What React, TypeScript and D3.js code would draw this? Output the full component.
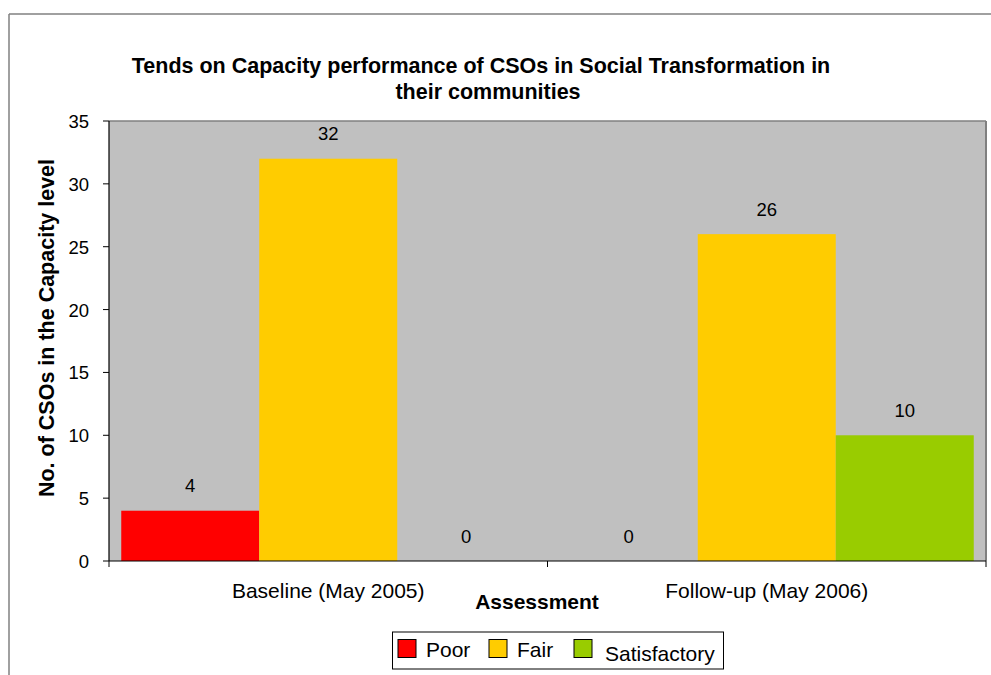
import React from "react";
import * as d3 from "d3";

const categories = ["Baseline (May 2005)", "Follow-up (May 2006)"];
const seriesNames = ["Poor", "Fair", "Satisfactory"];
const poorValues = [4, 0];
const fairValues = [32, 26];
const satisfactoryValues = [0, 10];
const seriesColors = ["#FF0000", "#FFCC00", "#99CC00"];
const yTicks = [0, 5, 10, 15, 20, 25, 30, 35];

const W = 991;
const H = 675;
const FONT = "'Liberation Sans', Arial, sans-serif";

export default function App() {
  const left = 109;
  const right = 986;
  const top = 121;
  const bottom = 561;

  const x0 = d3.scaleBand<string>().domain(categories).range([left, right]).paddingInner(0).paddingOuter(0);
  const x1 = d3
    .scaleBand<string>()
    .domain(seriesNames)
    .range([0, x0.bandwidth()])
    .paddingInner(0)
    .paddingOuter(0.0888);
  const y = d3.scaleLinear().domain([0, 35]).range([bottom, top]);

  const seriesValues = [poorValues, fairValues, satisfactoryValues];

  return (
    <svg
      width={W}
      height={H}
      style={{ position: "absolute", left: 0, top: 0, background: "#fff" }}
      fontFamily={FONT}
    >
      {/* outer border */}
      <line x1={9} y1={14} x2={W} y2={14} stroke="#808080" strokeWidth={1.5} />
      <line x1={9} y1={14} x2={9} y2={H} stroke="#808080" strokeWidth={1.5} />

      {/* title */}
      <text x={481} y={73} textAnchor="middle" fontSize={21.5} fontWeight="bold" fill="#000">
        Tends on Capacity performance of CSOs in Social Transformation in
      </text>
      <text x={488} y={99} textAnchor="middle" fontSize={21.5} fontWeight="bold" fill="#000">
        their communities
      </text>

      {/* plot area */}
      <rect x={left} y={top} width={right - left} height={bottom - top} fill="#C0C0C0" />
      <line x1={left} y1={top} x2={right} y2={top} stroke="#808080" strokeWidth={1.5} />
      <line x1={right} y1={top} x2={right} y2={bottom} stroke="#808080" strokeWidth={2} />

      {/* bars */}
      {categories.map((c, ci) =>
        seriesNames.map((s, si) => {
          const v = seriesValues[si][ci];
          const bx = (x0(c) as number) + (x1(s) as number);
          const bw = x1.bandwidth();
          return (
            <g key={c + s}>
              {v > 0 && (
                <rect x={bx} y={y(v)} width={bw} height={bottom - y(v)} fill={seriesColors[si]} />
              )}
              <text
                x={bx + bw / 2}
                y={y(v) - 18.5}
                textAnchor="middle"
                fontSize={18.5}
                fill="#000"
              >
                {v}
              </text>
            </g>
          );
        })
      )}

      {/* y axis */}
      <line x1={left} y1={top} x2={left} y2={bottom} stroke="#000" strokeWidth={1.2} />
      {yTicks.map((t) => (
        <g key={t}>
          <line x1={left - 6} y1={y(t)} x2={left} y2={y(t)} stroke="#000" strokeWidth={1} />
          <text x={89} y={y(t) + 7} textAnchor="end" fontSize={18.5} fill="#000">
            {t}
          </text>
        </g>
      ))}

      {/* x axis */}
      <line x1={left} y1={bottom} x2={right} y2={bottom} stroke="#000" strokeWidth={1.2} />
      {[left, left + x0.bandwidth(), right].map((tx, i) => (
        <line key={i} x1={tx} y1={bottom} x2={tx} y2={bottom + 6} stroke="#000" strokeWidth={1} />
      ))}
      {categories.map((c) => (
        <text
          key={c}
          x={(x0(c) as number) + x0.bandwidth() / 2}
          y={598}
          textAnchor="middle"
          fontSize={21}
          fill="#000"
        >
          {c}
        </text>
      ))}

      {/* axis titles */}
      <text x={537} y={609} textAnchor="middle" fontSize={21} fontWeight="bold" fill="#000">
        Assessment
      </text>
      <text
        transform={`translate(54,328) rotate(-90)`}
        textAnchor="middle"
        fontSize={21.5}
        fontWeight="bold"
        fill="#000"
      >
        No. of CSOs in the Capacity level
      </text>

      {/* legend */}
      <rect x={392.5} y={632} width={331} height={37} fill="#fff" stroke="#000" strokeWidth={1} />
      {[
        { sx: 398, tx: 426, ty: 657 },
        { sx: 489, tx: 517, ty: 657 },
        { sx: 574, tx: 605, ty: 661 },
      ].map((p, i) => (
        <g key={i}>
          <rect x={p.sx} y={639.5} width={18} height={18} fill={seriesColors[i]} stroke="#000" strokeWidth={1} />
          <text x={p.tx} y={p.ty} fontSize={21} fill="#000">
            {seriesNames[i]}
          </text>
        </g>
      ))}
    </svg>
  );
}
